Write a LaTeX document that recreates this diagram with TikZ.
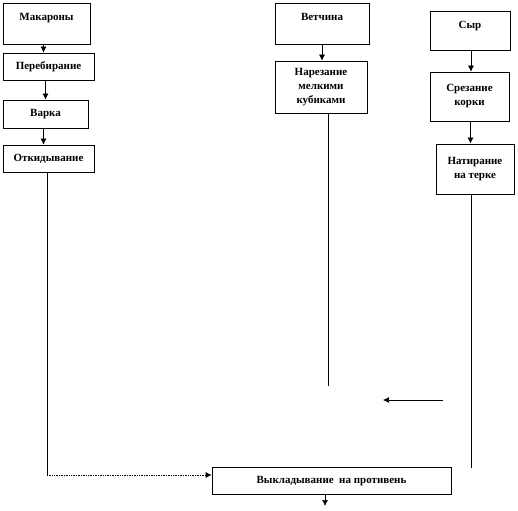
\documentclass[tikz,border=0pt]{standalone}
\usepackage{fontspec}
\setmainfont{Liberation Serif}
\usetikzlibrary{arrows.meta,positioning}

\begin{document}
\begin{tikzpicture}[x=1pt, y=-1pt, line width=0.7pt, >={Latex[length=6pt,width=6pt]},
  stepbox/.style={draw, inner sep=1pt, font=\fontsize{11}{14}\selectfont\bfseries, align=center},
  onerow/.style={stepbox, text height=8pt, text depth=#1},
  onerow/.default=2pt,
  link/.style={->}]
\useasboundingbox (0,0) rectangle (518,510);
% macaroni column
\node[onerow=14pt, minimum width=87pt, minimum height=41pt] (mak) at (46.5,23.5) {Макароны};
\node[onerow, minimum width=91pt, minimum height=27pt] (pereb) at (48.5,66.5) {Перебирание};
\node[onerow, minimum width=85pt, minimum height=28pt] (varka) at (45.5,114) {Варка};
\node[onerow, minimum width=91pt, minimum height=27pt] (otkid) at (48.5,158.5) {Откидывание};
% ham column
\node[onerow=14pt, minimum width=94pt, minimum height=41pt] (vetch) at (322,23.5) {Ветчина};
\node[stepbox, minimum width=92pt, minimum height=52pt] (narez) at (321,87) {Нарезание\\мелкими\\кубиками};
% cheese column
\node[onerow=12pt, minimum width=80pt, minimum height=39pt] (syr) at (470,30.5) {Сыр};
\node[stepbox, minimum width=79pt, minimum height=49pt] (srez) at (469.5,96.5) {Срезание\\корки};
\node[stepbox, minimum width=78pt, minimum height=50pt] (natir) at (475,169) {Натирание\\на терке};
% common step
\node[onerow, minimum width=239pt, minimum height=27pt] (vykl) at (331.5,480.5) {Выкладывание\ \ на противень};
\coordinate (narezEnd) at (328,386);
\coordinate (natirEnd) at (471,468);
\coordinate (freeA) at (443,400);
\coordinate (freeB) at (383,400);
\coordinate (vyklEnd) at (325,506);
\coordinate (otkidTurn) at (47,475);
% arrows
\foreach \a/\b/\dx in {mak/pereb/-3, pereb/varka/-3, varka/otkid/-2, vetch/narez/0, syr/srez/1, srez/natir/1}
  \draw[link] ([xshift=\dx pt]\a.south) -- ([xshift=\dx pt]\a.south |- \b.north);
\draw ([xshift=7pt]narez.south) -- (narezEnd);
\draw ([xshift=-4pt]natir.south) -- (natirEnd);
\draw (otkid.south -| otkidTurn) -- (otkidTurn);
\draw[link, densely dotted] (otkidTurn) -- (otkidTurn -| vykl.west);
\draw[link] (freeA) -- (freeB);
\draw[link] (vykl.south -| vyklEnd) -- (vyklEnd);
\end{tikzpicture}
\end{document}
